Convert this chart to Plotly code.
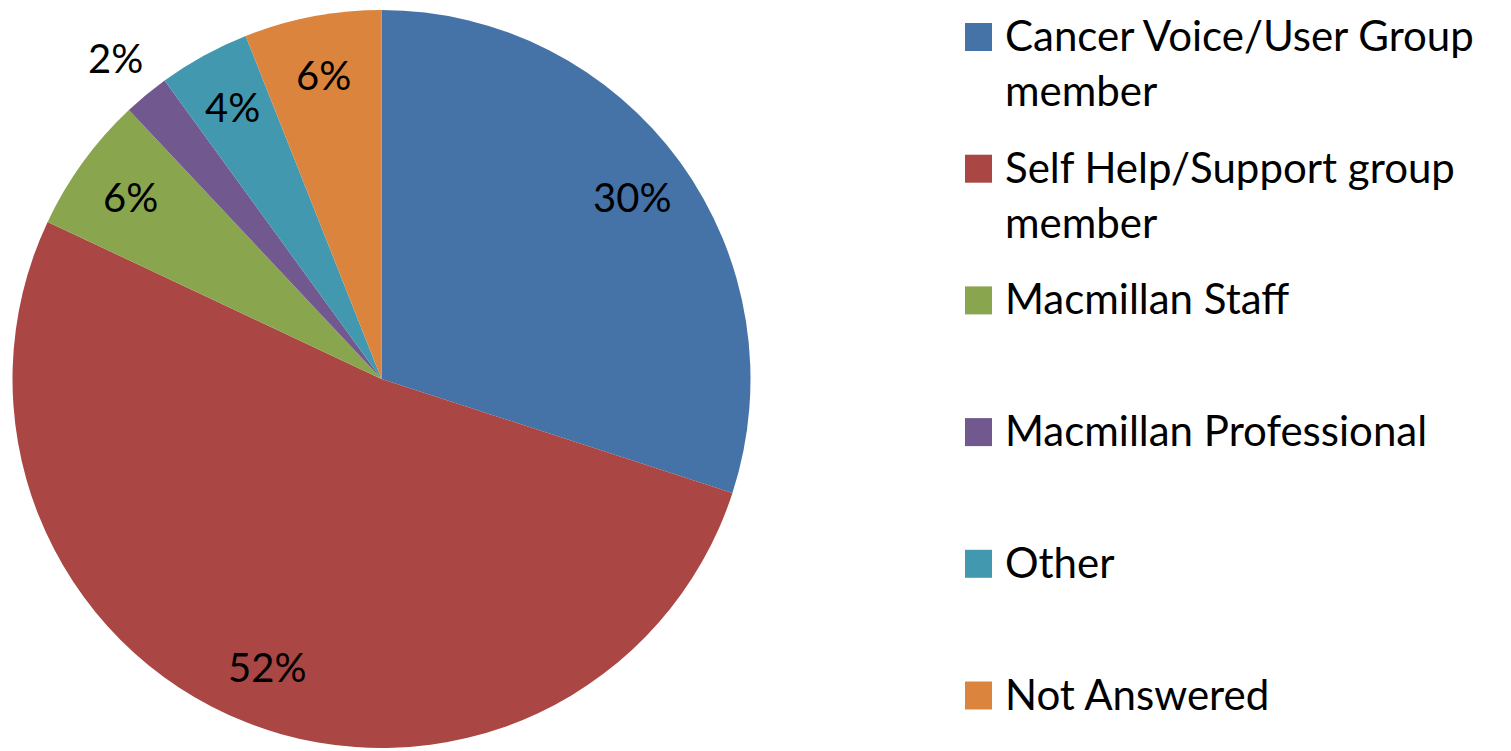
import math
import plotly.graph_objects as go

labels = [
    "Cancer Voice/User Group member",
    "Self Help/Support group member",
    "Macmillan Staff",
    "Macmillan Professional",
    "Other",
    "Not Answered",
]
legend_text = [
    "Cancer Voice/User Group<br>member",
    "Self Help/Support group<br>member",
    "Macmillan Staff",
    "Macmillan Professional",
    "Other",
    "Not Answered",
]
values = [30, 52, 6, 2, 4, 6]
colors = ["#4572A7", "#AA4643", "#89A54E", "#71588F", "#4198AF", "#DB843D"]

# page has an 8px body margin, so the figure is drawn a bit smaller
OFF = 8
W, H = 1511 - OFF, 751 - OFF
FONT = "Lato, 'Open Sans', sans-serif"

# pie placement in screen pixels
cx, cy, R = 381.5, 379.0, 369.0


def px2paper(x, y):
    return (x - OFF) / W, 1 - (y - OFF) / H


x0, y_top = px2paper(cx - R - 1, cy - R)
x1, y_bot = px2paper(cx + R + 1, cy + R)

fig = go.Figure()
fig.add_trace(go.Pie(
    labels=labels,
    values=values,
    sort=False,
    direction="clockwise",
    rotation=0,
    marker=dict(colors=colors, line=dict(width=0)),
    textinfo="none",
    hoverinfo="label+percent",
    showlegend=False,
    domain=dict(x=[max(x0, 0), x1], y=[max(y_bot, 0), min(y_top, 1)]),
))

# percentage labels, placed along each slice's bisector
annotations = []
total = sum(values)
start = 0.0
for v in values:
    mid = (start + v / 2) / total * 2 * math.pi
    start += v
    frac = 1.13 if v < 3 else 0.84
    tx = cx + math.sin(mid) * R * frac
    ty = cy - math.cos(mid) * R * frac
    px, py = px2paper(tx, ty)
    annotations.append(dict(
        x=px, y=py, xref="paper", yref="paper",
        text=f"{round(v / total * 100)}%", showarrow=False,
        font=dict(family=FONT, size=40, color="#000000"),
        xanchor="center", yanchor="middle",
    ))

# legend drawn by hand to match spacing
shapes = []
for i, (txt, col) in enumerate(zip(legend_text, colors)):
    yc = 37 + i * 131.7
    sx0, sy0 = px2paper(965, yc - 14)
    sx1, sy1 = px2paper(992, yc + 14)
    shapes.append(dict(type="rect", xref="paper", yref="paper",
                       x0=sx0, x1=sx1, y0=sy1, y1=sy0,
                       fillcolor=col, line=dict(width=0)))
    tx, ty = px2paper(1003, yc - 29)
    annotations.append(dict(
        x=tx, y=ty, xref="paper", yref="paper",
        text=txt, showarrow=False, align="left",
        font=dict(family=FONT, size=42, color="#000000"),
        xanchor="left", yanchor="top",
    ))

fig.update_layout(
    width=W, height=H,
    margin=dict(l=0, r=0, t=0, b=0),
    paper_bgcolor="white",
    plot_bgcolor="white",
    annotations=annotations,
    shapes=shapes,
)

fig.write_html("out.html")
